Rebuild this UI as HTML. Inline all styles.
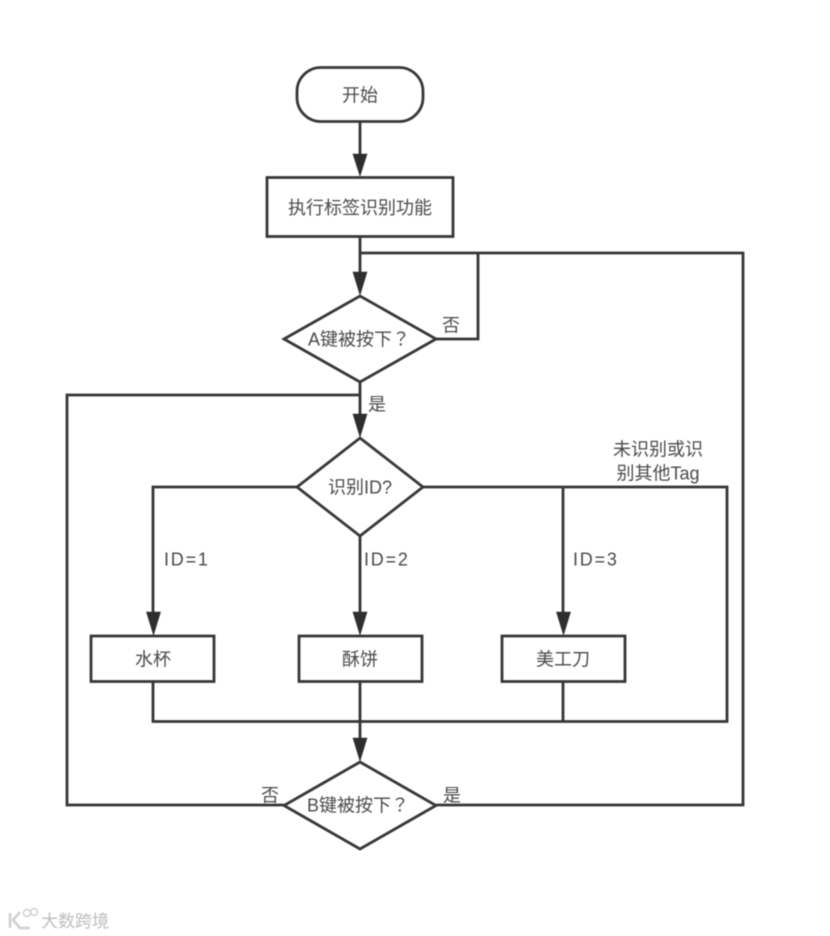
<!DOCTYPE html>
<html><head><meta charset="utf-8">
<style>
html,body{margin:0;padding:0;background:#fff;width:830px;height:936px;overflow:hidden}
svg{display:block;filter:blur(0.55px)}
text{font-family:"Liberation Sans","Noto Sans CJK SC",sans-serif;font-size:18px;fill:#4a4a4a;text-anchor:middle}
.st{text-anchor:start}
.jp{font-family:"Noto Sans CJK JP",sans-serif}
.s{fill:#fff;stroke:#383838;stroke-width:2.8}
.l{fill:none;stroke:#363636;stroke-width:2.8}
.a{fill:#2e2e2e;stroke:#2e2e2e;stroke-width:.6}
</style></head><body>
<svg width="830" height="936" viewBox="0 0 830 936" xmlns="http://www.w3.org/2000/svg">
<!-- connectors -->
<path class="l" d="M360 121V160"/>
<path class="l" d="M360 236V278"/>
<path class="l" d="M360 253H743V805H436"/>
<path class="l" d="M436 339H478V253"/>
<path class="l" d="M360 382V420"/>
<path class="l" d="M360 395H67V805H284"/>
<path class="l" d="M297 487H153V618"/>
<path class="l" d="M360 536V618"/>
<path class="l" d="M423 487H727V721.500H153V681"/>
<path class="l" d="M563 487V618"/>
<path class="l" d="M563 681V721"/>
<path class="l" d="M360 681V744"/>
<!-- arrowheads -->
<path class="a" d="M353 154H367L360 176Z"/>
<path class="a" d="M353 272H367L360 295Z"/>
<path class="a" d="M353 414H367L360 437Z"/>
<path class="a" d="M146.500 612H160.500L153.500 635Z"/>
<path class="a" d="M353 612H367L360 635Z"/>
<path class="a" d="M556.500 612H570.500L563.500 635Z"/>
<path class="a" d="M353 738H367L360 761Z"/>
<!-- nodes -->
<rect class="s" x="297" y="67.500" width="126" height="54" rx="24" ry="24"/>
<rect class="s" x="267" y="177.500" width="186" height="59"/>
<path class="s" d="M360 296L436 339L360 382L284 339Z"/>
<path class="s" d="M360 438L423 487L360 536L297 487Z"/>
<rect class="s" x="91" y="636" width="123" height="45.500"/>
<rect class="s" x="299" y="636" width="123" height="45.500"/>
<rect class="s" x="502" y="636" width="123" height="45.500"/>
<path class="s" d="M360 762L436 805.500L360 849L284 805.500Z"/>
<!-- node labels -->
<text x="360" y="101.500">开始</text>
<text x="360" y="214">执行标签识别功能</text>
<text class="st" x="308" y="345.500">A键被按下<tspan class="jp">？</tspan></text>
<text x="360" y="493.500">识别ID?</text>
<text x="153" y="665.500">水杯</text>
<text x="360" y="665.500">酥饼</text>
<text x="563" y="665.500">美工刀</text>
<text class="st" x="307" y="811.500">B键被按下<tspan class="jp">？</tspan></text>
<!-- edge labels -->
<text x="451" y="331.500">否</text>
<text x="377" y="410.500">是</text>
<text class="st" x="164" y="565.500" style="letter-spacing:1.800px">ID=1</text>
<text class="st" x="364" y="565.500" style="letter-spacing:1.800px">ID=2</text>
<text class="st" x="573" y="565.500" style="letter-spacing:1.800px">ID=3</text>
<text x="658" y="455.500">未识别或识</text>
<text x="658" y="479.500">别其他Tag</text>
<text x="270" y="801.500">否</text>
<text x="452" y="801.500">是</text>
<!-- watermark -->
<g opacity=".8">
<path d="M10 913V928M20 912L13 920L20 928H30" fill="none" stroke="#c4c4c4" stroke-width="2.500"/>
<circle cx="27" cy="913" r="3.500" fill="none" stroke="#c4c4c4" stroke-width="1.500"/>
<circle cx="34" cy="912" r="3.500" fill="none" stroke="#c4c4c4" stroke-width="1.500"/>
</g>
<text class="st" x="41" y="927" style="fill:#bdbdbd;font-size:17px">大数跨境</text>
</svg>
</body></html>
